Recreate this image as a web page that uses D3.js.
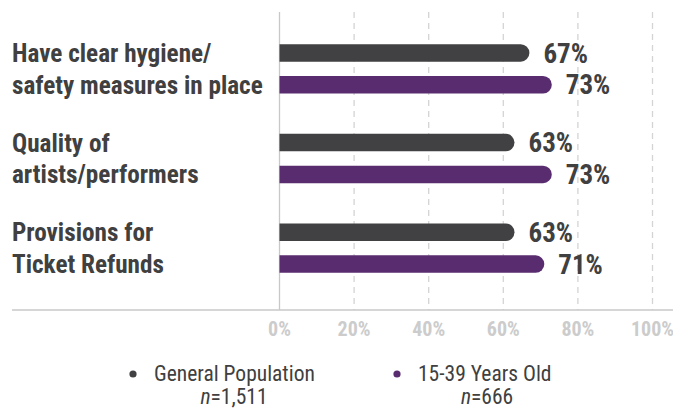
<!DOCTYPE html>
<html>
<head>
<meta charset="utf-8">
<script src="https://cdn.jsdelivr.net/npm/d3@7/dist/d3.min.js"></script>
<style>
  html, body { margin: 0; padding: 0; background: #fff; }
  svg { display: block; }
  text { font-family: "Liberation Sans Narrow", "Roboto Condensed", "Arial Narrow", sans-serif; }
</style>
</head>
<body>
<svg id="chart" width="673" height="410"></svg>
<script>
// Survey factors, two respondent groups
const categories = [
  ["Have clear hygiene/", "safety measures in place"],
  ["Quality of", "artists/performers"],
  ["Provisions for", "Ticket Refunds"]
];
const seriesNames = ["General Population", "15-39 Years Old"];
const sampleSizes = ["1,511", "666"];
const generalPopulation = [67, 63, 63];
const youngAdults = [73, 73, 71];
const tickValues = [0, 20, 40, 60, 80, 100];
const colors = ["#414042", "#582c6e"];

const svg = d3.select("#chart");
const textColor = "#404040";

const x = d3.scaleLinear().domain([0, 100]).range([279.5, 652.5]);
const groupY = d3.scaleBand().domain(d3.range(categories.length)).range([24, 293]).padding(0);
const barOffset = d3.scalePoint().domain([0, 1]).range([-15.9, 15.9]);
const barH = 17.5;

// dashed gridlines
svg.append("g").selectAll("line").data(tickValues.filter(d => d > 0)).join("line")
  .attr("x1", d => x(d)).attr("x2", d => x(d))
  .attr("y1", 12).attr("y2", 310)
  .attr("stroke", "#d4d4d4").attr("stroke-width", 1.3)
  .attr("stroke-dasharray", "6,5");

// baseline axes
svg.append("line").attr("x1", x(0)).attr("x2", x(0)).attr("y1", 12).attr("y2", 310)
  .attr("stroke", "#c8c8c8").attr("stroke-width", 1.3);
svg.append("line").attr("x1", 12).attr("x2", 673).attr("y1", 310).attr("y2", 310)
  .attr("stroke", "#c8c8c8").attr("stroke-width", 1.5);

// bar with rounded right end
function barPath(x0, x1, cy, h) {
  const r = h / 2;
  const xe = Math.max(x0, x1 - r);
  return `M${x0},${cy - r}H${xe}A${r},${r} 0 0 1 ${xe},${cy + r}H${x0}Z`;
}

const series = [generalPopulation, youngAdults];
series.forEach((vals, si) => {
  const g = svg.append("g");
  g.selectAll("path").data(vals).join("path")
    .attr("d", (v, i) => barPath(x(0), x(v), groupY(i) + groupY.bandwidth() / 2 + barOffset(si), barH))
    .attr("fill", colors[si]);
  g.selectAll("text").data(vals).join("text")
    .attr("x", v => x(v) + 14)
    .attr("y", (v, i) => groupY(i) + groupY.bandwidth() / 2 + barOffset(si))
    .attr("dy", "0.36em")
    .attr("font-size", 27).attr("font-weight", "bold")
    .attr("fill", textColor)
    .text(v => v + "%");
});

// category labels, one line per bar row
const catG = svg.append("g");
categories.forEach((lines, i) => {
  lines.forEach((ln, li) => {
    catG.append("text")
      .attr("x", 12)
      .attr("y", groupY(i) + groupY.bandwidth() / 2 + barOffset(li))
      .attr("dy", "0.36em")
      .attr("font-size", 25.2).attr("font-weight", "bold")
      .attr("fill", textColor)
      .text(ln);
  });
});

// x tick labels
svg.append("g").selectAll("text").data(tickValues).join("text")
  .attr("x", d => x(d)).attr("y", 336)
  .attr("text-anchor", "middle")
  .attr("font-size", 20).attr("font-weight", "bold")
  .attr("fill", "#cccccc")
  .text(d => d + "%");

// legend
const legendX = [133, 397];
const legendCenter = [234, 487];
seriesNames.forEach((name, i) => {
  svg.append("circle").attr("cx", legendX[i]).attr("cy", 374).attr("r", 3.6).attr("fill", colors[i]);
  svg.append("text").attr("x", legendX[i] + 21).attr("y", 381)
    .attr("font-size", 21.5).attr("fill", textColor).text(name);
  const t = svg.append("text").attr("x", legendCenter[i]).attr("y", 404)
    .attr("text-anchor", "middle").attr("font-size", 21.5).attr("fill", textColor);
  t.append("tspan").attr("font-style", "italic").text("n");
  t.append("tspan").text("=" + sampleSizes[i]);
});
</script>
</body>
</html>
